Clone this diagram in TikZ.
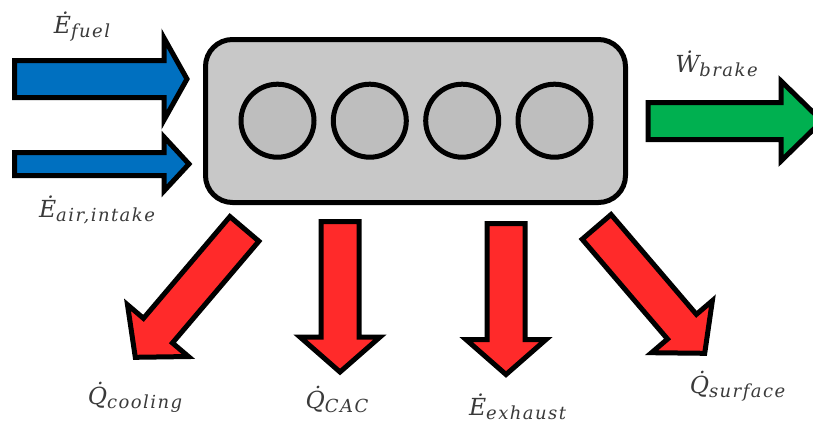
\documentclass[tikz,border=0pt]{standalone}
\usepackage{fontspec}
\usetikzlibrary{calc}

% label fonts: italic serif symbol and a loosely spaced, lowered subscript
\newfontfamily\lblmain{DejaVu Serif}
\newfontfamily\lblsubfont[LetterSpace=8]{DejaVu Serif}
\newcommand\flowsym[2]{%
  {\fontsize{23.5}{27}\lblmain\itshape #1}%
  \raisebox{-4.5pt}{\fontsize{18}{21}\lblsubfont\itshape #2}}

\definecolor{inblue}{RGB}{0,112,192}
\definecolor{workgreen}{RGB}{0,176,80}
\definecolor{lossred}{RGB}{255,42,42}
\definecolor{blockgray}{RGB}{200,200,200}
\definecolor{cylgray}{RGB}{190,190,190}
\definecolor{textgray}{RGB}{58,58,58}

\tikzset{
  flow/.style={draw=black, line width=5pt, line join=miter, miter limit=10},
  engineblock/.style={draw=black, line width=5pt, fill=blockgray, rounded corners=27pt,
    minimum width=420pt, minimum height=163pt, inner sep=0pt},
  cylinder/.style={circle, draw=black, line width=5pt, fill=cylgray,
    minimum size=73pt, inner sep=0pt},
  flowlabel/.style={text=textgray, inner sep=0pt, anchor=base}
}

% fat arrow from tail #2 to tip #3:
% #4 shaft half-width, #5 head half-width, #6 head length
\newcommand\blockarrow[6]{%
  \coordinate (hb) at ($(#3)!#6!(#2)$);
  \draw[#1] ($(#2)!#4!90:(#3)$) -- ($(hb)!#4!90:(#3)$) -- ($(hb)!#5!90:(#3)$)
    -- (#3) -- ($(hb)!#5!-90:(#3)$) -- ($(hb)!#4!-90:(#3)$)
    -- ($(#2)!#4!-90:(#3)$) -- cycle;
}

\begin{document}
\begin{tikzpicture}[x=1pt,y=-1pt]
\useasboundingbox (0,0) rectangle (813,431);

% engine block with four cylinders
\node[engineblock] (engine) at (415.5,121) {};
\foreach \i/\x in {1/277.5,2/369.8,3/462.2,4/554.5}
  \node[cylinder] (c\i) at (\x,120.7) {};

% arrow end points
\coordinate (fuelT) at (14.5,79);   \coordinate (fuelH) at (187,79);
\coordinate (airT)  at (14.5,164);  \coordinate (airH)  at (189,164);
\coordinate (brakeT) at (648,121);  \coordinate (brakeH) at (822,121);
\coordinate (coolT) at (244.4,228.9); \coordinate (coolH) at (135.3,357.3);
\coordinate (cacT)  at (340,221.5); \coordinate (cacH)  at (340,372);
\coordinate (exhT)  at (506,223.5); \coordinate (exhH)  at (506,374.5);
\coordinate (surfT) at (596.6,226.9); \coordinate (surfH) at (704.7,353.3);

% inflows
\blockarrow{flow,fill=inblue}{fuelT}{fuelH}{18.5pt}{41pt}{23pt}
\blockarrow{flow,fill=inblue}{airT}{airH}{11.5pt}{27pt}{25pt}
% brake work
\blockarrow{flow,fill=workgreen}{brakeT}{brakeH}{18.5pt}{40pt}{41pt}
% losses
\blockarrow{flow,fill=lossred}{coolT}{coolH}{19pt}{40pt}{35pt}
\blockarrow{flow,fill=lossred}{cacT}{cacH}{19pt}{40pt}{35pt}
\blockarrow{flow,fill=lossred}{exhT}{exhH}{19pt}{40pt}{35pt}
\blockarrow{flow,fill=lossred}{surfT}{surfH}{19pt}{40pt}{35pt}

% labels
\node[flowlabel] (lfuel)  at (82,33)     {\flowsym{^^^^0116}{fuel}};
\node[flowlabel] (lair)   at (97,217)    {\flowsym{^^^^0116}{air,intake}};
\node[flowlabel] (lbrake) at (716.5,72)  {\flowsym{^^^^1e86}{brake}};
\node[flowlabel] (lcool)  at (135,404)   {\flowsym{Q^^^^0307}{cooling}};
\node[flowlabel] (lcac)   at (337,408)   {\flowsym{Q^^^^0307}{CAC}};
\node[flowlabel] (lexh)   at (517.5,415) {\flowsym{^^^^0116}{exhaust}};
\node[flowlabel] (lsurf)  at (737.5,393) {\flowsym{Q^^^^0307}{surface}};
\end{tikzpicture}
\end{document}
